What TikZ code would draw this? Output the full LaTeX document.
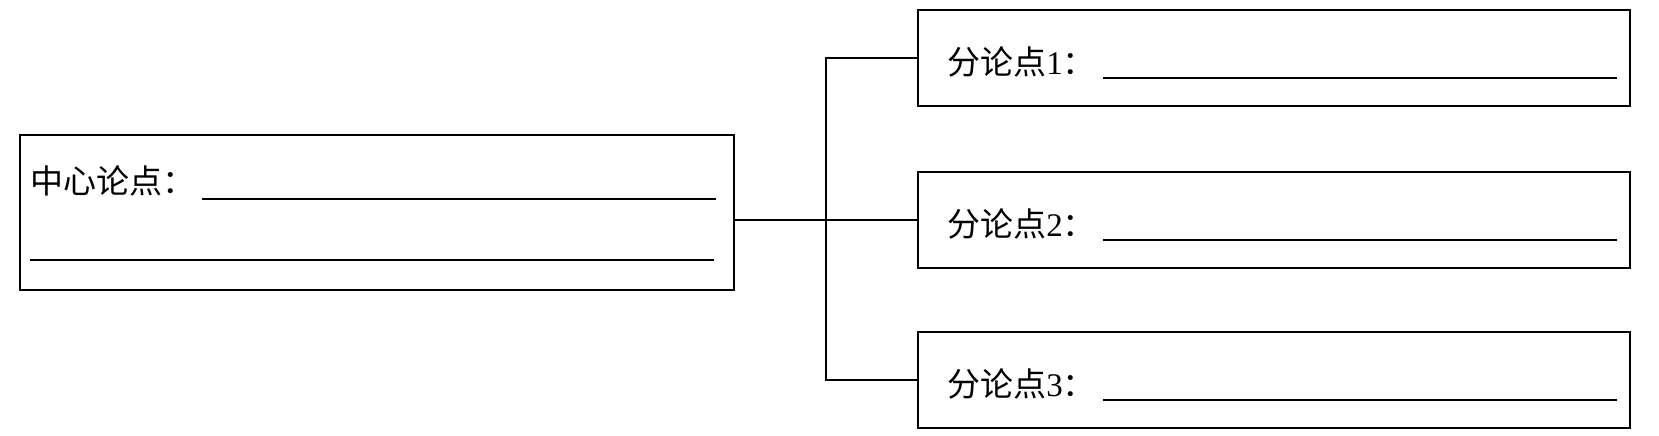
\documentclass[tikz,border=0pt]{standalone}
\usepackage{fontspec}
\setmainfont{Liberation Serif}
\newfontfamily\cjk{Noto Sans CJK SC}
\usetikzlibrary{positioning,calc}

\begin{document}
\begin{tikzpicture}[x=1pt,y=-1pt]
      \tikzset{argbox/.style={rectangle,draw,line width=1.5pt,minimum width=712pt,minimum height=96pt,inner sep=0pt}}
      \tikzset{mainbox/.style={argbox,minimum width=714pt,minimum height=155pt}}
      \tikzset{argtext/.style={anchor=west,inner sep=0pt,font=\fontsize{33}{40}\selectfont}}
      \tikzset{blank/.style={line width=1.5pt}}
      \tikzset{link/.style={line width=1.4pt}}

      \useasboundingbox (0,0) rectangle (1659,436);

      % central claim
      \node[mainbox] (main) at (377,212.5) {};
      \node[argtext] (maintext) at (30,181) {\cjk 中心论点：};
      \draw[blank] ([xshift=-533pt,yshift=13.5pt]main.east) -- ([xshift=-19pt,yshift=13.5pt]main.east);
      \draw[blank] ([xshift=11pt,yshift=-47.5pt]main.west) -- ([xshift=-21pt,yshift=-47.5pt]main.east);

      % sub claims
      \node[argbox] (b1) at (1274,58) {};
      \node[argbox] (b2) at (1274,220) {};
      \node[argbox] (b3) at (1274,380) {};
      \foreach \i in {1,2,3} {
        \node[argtext] (t\i) at ([xshift=30pt,yshift=-4pt]b\i.west) {{\cjk 分论点}\i{\cjk ：}};
        \draw[blank] ([xshift=-528pt,yshift=-20pt]b\i.east) -- ([xshift=-14pt,yshift=-20pt]b\i.east);
      }

      % connectors
      \coordinate (fork) at ($(main.east |- b2.west)!0.5!(b2.west)$);
      \draw[link] (main.east |- b2.west) -- (b2.west);
      \draw[link] (b1.west) -| (fork) |- (b3.west);
\end{tikzpicture}
\end{document}
